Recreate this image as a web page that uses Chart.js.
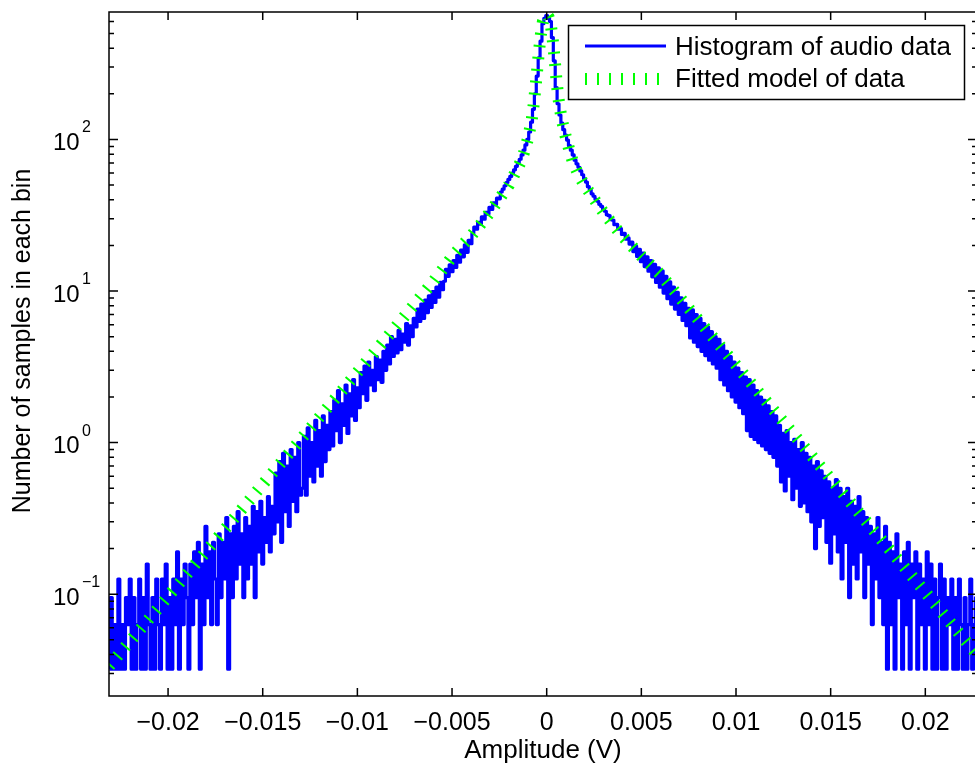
<!DOCTYPE html>
<html>
<head>
<meta charset="utf-8">
<title>Histogram of audio data</title>
<script src="https://cdn.jsdelivr.net/npm/chart.js@4.4.1/dist/chart.umd.min.js"></script>
<style>
  html, body { margin: 0; padding: 0; background: #fff; overflow: hidden; }
  canvas { display: block; }
</style>
</head>
<body>
<canvas id="histChart" width="985" height="767"></canvas>
<script>
// bins are 0.0001 V wide
const binWidth = 0.0001;

// histogram, left half: x = -0.0231 ... 0
const histLeft = [
  .032,.095,.032,.063,.032,.126,.032,.063,.032,.095,.063,.126,
  .032,.095,.032,.063,.126,.032,.095,.032,.158,.063,.032,.095,.032,.126,.063,
  .032,.126,.063,.158,.032,.095,.032,.126,.063,.19,.032,.126,.063,.158,.095,
  .032,.158,.063,.19,.095,.22,.032,.158,.063,.28,.095,.19,.063,.22,.126,
  .063,.25,.095,.22,.126,.32,.032,.25,.095,.28,.126,.35,.158,.25,.095,
  .32,.126,.28,.158,.38,.095,.35,.19,.41,.158,.32,.22,.44,.19,.38,
  .25,.63,.3,.75,.22,.85,.35,.7,.28,.9,.41,.8,.35,1.0,.45,
  .5,1.1,.45,1.25,.6,1.0,.55,1.4,.7,1.2,.6,1.5,.75,1.3,.9,
  1.6,.95,1.9,1.2,2.2,1.0,1.8,1.3,2.4,1.15,2.1,1.5,2.6,1.4,2.3,
  1.7,2.9,2.1,3.2,1.9,3.4,2.4,3.0,2.2,3.7,2.6,3.5,2.5,4.0,3.0,
  4.4,3.3,5.0,3.7,4.8,3.9,5.5,4.1,5.2,4.6,6.1,4.4,5.9,5.0,6.6,
  5.8,7.6,6.3,8.2,6.6,8.7,7.2,9.3,7.8,9.9,8.4,10.6,9.1,11.4,10.2,
  11.6,13.9,12.5,14.9,13.4,15.9,14.3,17.2,15.5,18.6,16.8,20.2,18.0,21.6,20.5,
  24.0,26.4,25.6,28.4,27.6,30.8,29.8,33.1,32.2,35.6,34.5,38.2,37.2,41.0,40.6,
  45,47,49.5,52,54.5,57,60,63,66.5,70,74,79,85,92,100,112,130,158,200,262,345,445,580,630,655
];

// histogram, right half: x = 0.0001 ... 0.0227
const histRight = [
  630,600,470,330,220,172,145,128,116,107,99,91,85,79,73,69,65.5,62,58.5,55,
  52.3,48.8,46.7,43.8,42.2,40.3,39.1,37.3,36.2,34.6,
  33.6,31.8,31.4,29.6,29.4,27.4,27.5,25.6,25.8,23.6,24.0,22.0,22.4,20.4,21.0,
  18.2,19.8,16.9,18.8,15.6,17.8,14.5,16.8,13.5,15.9,12.4,15.0,11.4,14.2,10.6,
  13.6,9.7,12.5,8.9,11.5,8.2,10.6,7.6,9.8,7.0,9.0,6.4,8.3,5.9,7.7,
  4.9,7.5,4.6,7.0,4.3,6.6,4.0,6.1,3.75,5.8,3.5,5.4,3.3,5.0,3.1,
  4.8,2.6,4.4,2.4,4.0,2.2,3.7,2.0,3.4,1.85,3.1,1.7,2.9,1.55,2.7,
  1.2,2.6,1.1,2.4,1.05,2.2,1.0,2.0,.95,1.9,.9,1.75,.85,1.6,.8,
  1.5,.7,1.3,.55,1.15,.48,1.2,.6,1.0,.42,1.05,.5,.9,.38,1.0,
  .4,.85,.35,.8,.3,.7,.2,.75,.28,.65,.32,.6,.22,.55,.16,
  .5,.25,.57,.19,.5,.126,.44,.22,.5,.095,.41,.158,.38,.126,.44,
  .19,.35,.095,.32,.158,.28,.063,.25,.126,.32,.095,.22,.063,.28,.032,
  .22,.063,.19,.032,.25,.095,.158,.032,.19,.063,.22,.032,.158,.095,.19,
  .032,.158,.063,.126,.032,.19,.063,.158,.032,.126,.032,.095,.158,.032,.126,
  .032,.095,.063,.126,.032,.095,.032,.126,.063,.032,.095,.032,.063,.126,.032,.063,.095
];

// fitted model
const modelX = [-0.0231,-0.022,-0.020,-0.018,-0.016,-0.014,-0.012,-0.010,-0.008,-0.006,-0.005,
  -0.0045,-0.004,-0.0035,-0.003,-0.0025,-0.002,-0.0017,-0.0014,-0.0012,-0.001,-0.0008,-0.0007,
  -0.0006,-0.0005,-0.0004,-0.0003,-0.0002,-0.0001,0,0.0001,0.0002,0.0003,0.0004,0.0005,0.0006,
  0.0007,0.0008,0.001,0.0012,0.0014,0.0017,0.002,0.0025,0.003,0.0035,0.004,0.0045,0.005,0.006,
  0.008,0.010,0.012,0.014,0.016,0.018,0.020,0.022,0.0227];
const modelY = [0.0337,0.049,0.0966,0.191,0.377,0.745,1.47,2.91,5.74,11.5,16.8,
  19.8,23,27.5,33,40.5,50,59,70,82,100,132,165,
  215,290,390,500,600,645,665,640,590,480,360,260,195,
  160,135,105,85,70,58,50,40.5,33,27.5,23,19.8,17,12.9,
  6.49,3.25,1.63,0.817,0.409,0.205,0.103,0.0513,0.0405];

// axes
const xTickValues = [-0.02, -0.015, -0.01, -0.005, 0, 0.005, 0.01, 0.015, 0.02];
const xTickLabels = ['\u22120.02', '\u22120.015', '\u22120.01', '\u22120.005', '0', '0.005', '0.01', '0.015', '0.02'];
const yMajorTicks = [0.1, 1, 10, 100];
const yTickExponents = ['\u22121', '0', '1', '2'];
const yMinorTicks = [0.03,0.04,0.05,0.06,0.07,0.08,0.09,0.2,0.3,0.4,0.5,0.6,0.7,0.8,0.9,
  2,3,4,5,6,7,8,9,20,30,40,50,60,70,80,90,200,300,400,500,600];

const histData = [];
histLeft.forEach((v, i) => histData.push({ x: +(-(histLeft.length - 1 - i) * binWidth).toFixed(4), y: v }));
histRight.forEach((v, i) => histData.push({ x: +((i + 1) * binWidth).toFixed(4), y: v }));
const modelData = modelX.map((x, i) => ({ x: x, y: modelY[i] }));

const FONT = '"Liberation Sans", Arial, Helvetica, sans-serif';

// box, inward ticks, labels and legend drawn MATLAB style
const matlabAxes = {
  id: 'matlabAxes',
  afterDatasetsDraw(chart) {
    const { ctx, chartArea: a, scales } = chart;
    const xs = scales.x, ys = scales.y;
    ctx.save();
    ctx.strokeStyle = '#000';
    ctx.lineWidth = 1.5;
    ctx.strokeRect(a.left, a.top, a.right - a.left, a.bottom - a.top);

    ctx.beginPath();
    xTickValues.forEach(v => {
      const px = xs.getPixelForValue(v);
      ctx.moveTo(px, a.bottom); ctx.lineTo(px, a.bottom - 8);
      ctx.moveTo(px, a.top); ctx.lineTo(px, a.top + 8);
    });
    yMajorTicks.forEach(v => {
      const py = ys.getPixelForValue(v);
      ctx.moveTo(a.left, py); ctx.lineTo(a.left + 9, py);
      ctx.moveTo(a.right, py); ctx.lineTo(a.right - 9, py);
    });
    yMinorTicks.forEach(v => {
      const py = ys.getPixelForValue(v);
      ctx.moveTo(a.left, py); ctx.lineTo(a.left + 5, py);
      ctx.moveTo(a.right, py); ctx.lineTo(a.right - 5, py);
    });
    ctx.stroke();

    ctx.fillStyle = '#000';
    ctx.textBaseline = 'alphabetic';
    ctx.font = '25px ' + FONT;
    ctx.textAlign = 'center';
    xTickValues.forEach((v, i) => ctx.fillText(xTickLabels[i], xs.getPixelForValue(v), a.bottom + 34));

    ctx.textAlign = 'left';
    yMajorTicks.forEach((v, i) => {
      const py = ys.getPixelForValue(v);
      ctx.font = '24px ' + FONT;
      ctx.fillText('10', 53, py + 10.5);
      ctx.font = '16px ' + FONT;
      ctx.fillText(yTickExponents[i], 82, py - 7);
    });

    ctx.font = '26px ' + FONT;
    ctx.textAlign = 'center';
    ctx.fillText('Amplitude (V)', (a.left + 977) / 2, 758);

    ctx.save();
    ctx.translate(30, 341);
    ctx.rotate(-Math.PI / 2);
    ctx.font = '25px ' + FONT;
    ctx.fillText('Number of samples in each bin', 0, 0);
    ctx.restore();

    // legend
    ctx.fillStyle = '#fff';
    ctx.fillRect(568, 25, 396, 74);
    ctx.lineWidth = 1.5;
    ctx.strokeRect(568.5, 25.5, 396, 74);
    ctx.beginPath();
    ctx.strokeStyle = '#0000ff';
    ctx.lineWidth = 3;
    ctx.moveTo(585, 46); ctx.lineTo(666, 46);
    ctx.stroke();
    ctx.beginPath();
    ctx.strokeStyle = '#00ff00';
    ctx.lineWidth = 12;
    ctx.setLineDash([2, 10]);
    ctx.moveTo(585, 79); ctx.lineTo(666, 79);
    ctx.stroke();
    ctx.setLineDash([]);
    ctx.fillStyle = '#000';
    ctx.font = '26px ' + FONT;
    ctx.textAlign = 'left';
    ctx.fillText('Histogram of audio data', 675, 55);
    ctx.fillText('Fitted model of data', 675, 87);
    ctx.restore();
  }
};

new Chart(document.getElementById('histChart'), {
  type: 'line',
  data: {
    datasets: [{
      label: 'Histogram of audio data',
      data: histData,
      borderColor: '#0000ff',
      borderWidth: 3.2,
      borderJoinStyle: 'round',
      stepped: 'middle',
      pointRadius: 0,
      clip: 0,
      order: 2
    }, {
      label: 'Fitted model of data',
      data: modelData,
      borderColor: '#00ff00',
      borderWidth: 12,
      borderDash: [2, 10],
      borderCapStyle: 'butt',
      pointRadius: 0,
      tension: 0,
      clip: 0,
      order: 1
    }]
  },
  options: {
    responsive: false,
    animation: false,
    events: [],
    layout: { padding: { left: 109, top: 12, right: 8, bottom: 71 } },
    scales: {
      x: { type: 'linear', display: false, min: -0.02312, max: 0.02273 },
      y: { type: 'logarithmic', display: false, min: 0.0213, max: 693 }
    },
    plugins: {
      legend: { display: false },
      tooltip: { enabled: false }
    }
  },
  plugins: [matlabAxes]
});
</script>
</body>
</html>
